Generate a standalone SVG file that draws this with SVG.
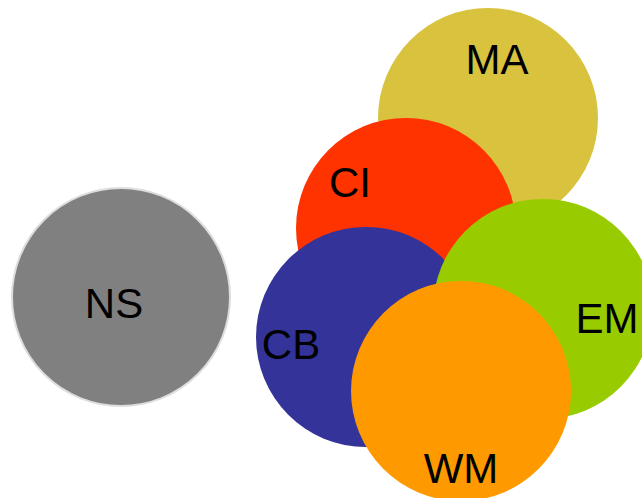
<svg xmlns="http://www.w3.org/2000/svg" width="642" height="498" viewBox="0 0 642 498">
<style>
text{font-family:"Liberation Sans",Arial,sans-serif;font-size:42px;fill:#000;text-anchor:middle}
</style>
<rect width="642" height="498" fill="#fff"/>
<g id="NS"><circle cx="121" cy="297" r="109" fill="#808080" stroke="#dddddd" stroke-width="2"/><text x="114" y="318">NS</text></g>
<g id="MA"><circle cx="488" cy="118" r="110" fill="#D8C23E"/><text x="497" y="74">MA</text></g>
<g id="CI"><circle cx="406" cy="228" r="110" fill="#FF3300"/><text x="350" y="197">CI</text></g>
<g id="CB"><circle cx="366" cy="337" r="110" fill="#333399"/><text x="291" y="359">CB</text></g>
<g id="EM"><circle cx="543" cy="309" r="110" fill="#99CC00"/><text x="607" y="333">EM</text></g>
<g id="WM"><circle cx="461" cy="391" r="110" fill="#FF9900"/><text x="461" y="483">WM</text></g>
<g id="connectors"></g>
</svg>
